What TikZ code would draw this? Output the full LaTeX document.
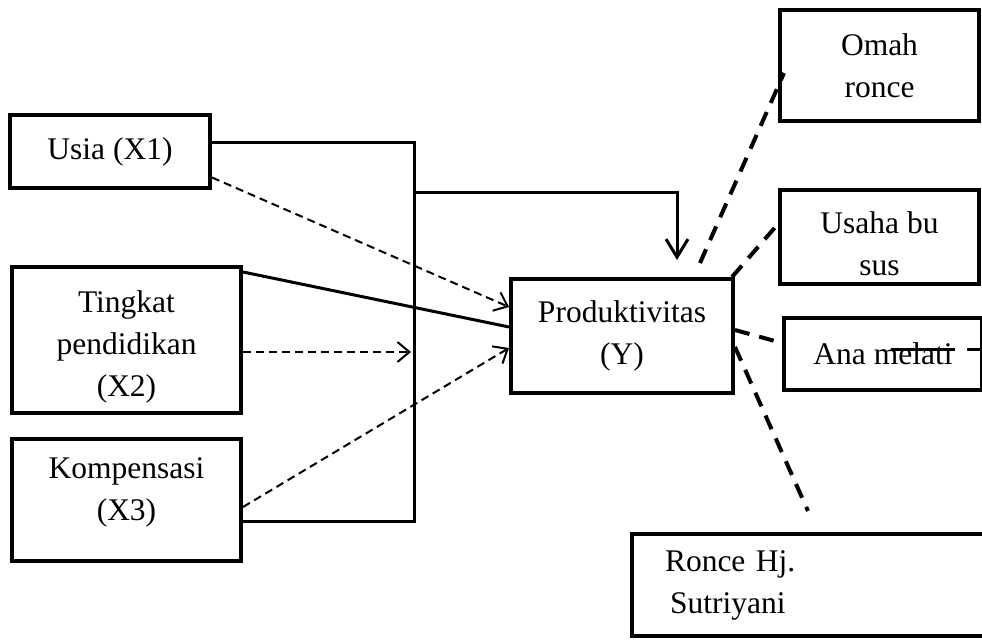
\documentclass[tikz,border=0pt]{standalone}
\usepackage{fontspec}
\setmainfont{Liberation Serif}
\usetikzlibrary{arrows.meta}

\begin{document}
\begin{tikzpicture}[x=0.5pt, y=-0.5pt, main node/.style={rectangle, draw, line width=2pt, align=center, inner sep=2pt, font=\fontsize{15.75}{21}\selectfont}, bus/.style={line width=1.5pt}, weak/.style={line width=1pt, dash pattern=on 4pt off 2.5pt, -{Straight Barb[length=6pt,width=10pt]}}, link/.style={line width=2pt, dash pattern=on 7.5pt off 5pt}]
	\useasboundingbox (0,0) rectangle (982,640);

	\node[main node, minimum width=100pt, minimum height=36.5pt] (X1) at (110,151.5) {Usia (X1)};
	\node[main node, minimum width=114.5pt, minimum height=73pt] (X2) at (126.5,340) {\rule{0pt}{17.8pt}Tingkat\\pendidikan\\(X2)};
	\node[main node, minimum width=114.5pt, minimum height=61pt, text depth=11pt] (X3) at (126.5,500) {Kompensasi\\(X3)};
	\node[main node, minimum width=111pt, minimum height=57pt] (Y) at (622,336) {Produktivitas\\(Y)};
	\node[main node, minimum width=99.5pt, minimum height=55.5pt] (R1) at (879.5,65.5) {Omah\\ronce};
	\node[main node, minimum width=99.5pt, minimum height=47pt] (R2) at (879.5,237) {\rule{0pt}{17.8pt}Usaha bu\\sus};
	\node[main node, minimum width=99pt, minimum height=36pt] (R3) at (883,354) {Ana melati};
	\node[main node, minimum width=179pt, minimum height=51pt, inner xsep=16.5pt, text width=146pt, align=left] (R4) at (811,585) {Ronce Hj.\\\hspace{2.5pt}Sutriyani};

	\coordinate (bus top) at (414,143);
	\coordinate (bus mid) at (414,193);
	\coordinate (bus bot) at (414,522);
	\coordinate (X2 out) at ([yshift=-6pt]X2.east);

	\draw[bus] (X1.east |- bus top) -- (bus top) -- (bus bot) -- (X3.east |- bus bot);
	\draw[bus, -{Straight Barb[length=9pt,width=11pt]}] (bus mid) -| ([xshift=27.5pt, yshift=8.5pt]Y.north);
	\draw[bus] ([yshift=-3.5pt]X2.north east) -- ([yshift=4.5pt]Y.west);
	\draw[weak] ([yshift=-13pt]X1.east) -- ([yshift=14.5pt]Y.west);
	\draw[weak, shorten >=1.5pt] (X2 out) -- (X2 out -| bus top);
	\draw[weak] ([yshift=-3.5pt]X3.east) -- ([yshift=-6pt]Y.west);

	\draw[link] ([xshift=39pt, yshift=7pt]Y.north) -- ([xshift=3pt, yshift=-3.75pt]R1.west);
	\draw[link] ([xshift=-1.5pt]Y.north east) -- ([yshift=6.5pt]R2.west);
	\draw[link] ([yshift=3pt]Y.east) -- ([yshift=5.5pt]R3.west);
	\draw[line width=1.5pt, dash pattern=on 32pt off 6pt on 8.5pt off 10pt] ([xshift=4pt, yshift=2pt]R3.center) -- ([xshift=1pt, yshift=2pt]R3.east);
	\draw[link] ([yshift=-5.5pt]Y.east) -- ([xshift=-1.5pt, yshift=10.5pt]R4.north);
\end{tikzpicture}
\end{document}
